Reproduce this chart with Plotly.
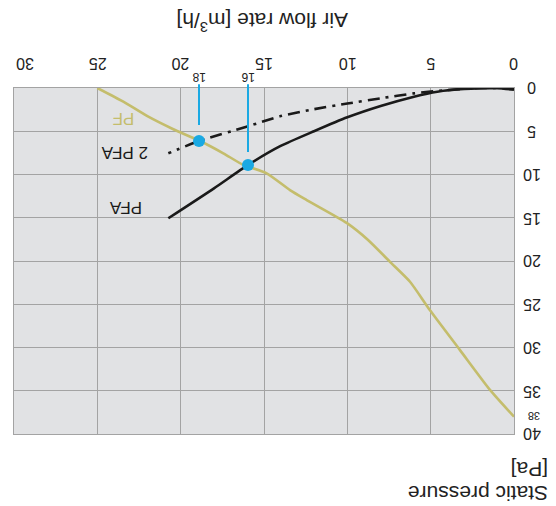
import plotly.graph_objects as go

# ---- data ----
pf_flow = [25, 23.44, 21.94, 20.44, 18.84, 17.44, 16.24, 14.84, 13.44, 12.44, 10.04, 8.74, 7.44, 6.24, 5.04, 3.24, 1.44, 0]
pf_press = [0, 1.58, 3.32, 4.77, 6.13, 7.55, 8.9, 9.86, 11.8, 12.95, 15.6, 17.6, 20.1, 22.4, 25.7, 30.3, 34.9, 38]

pfa_flow = [0, 1, 3, 4.6, 6, 8, 10, 12, 14, 16, 18, 20.74]
pfa_press = [0.2, 0.03, 0.12, 0.43, 1.0, 2.08, 3.39, 5.0, 6.7, 8.95, 11.6, 15.06]

pfa2_flow = [0, 2, 4, 6, 8, 10, 12, 14, 16, 18.9, 20.74]
pfa2_press = [0.03, 0.0, 0.23, 0.62, 1.19, 1.8, 2.45, 3.25, 4.45, 6.13, 7.55]

op_flow = [18.9, 15.96]
op_press = [6.13, 8.9]
op_line_end = [4.28, 7.4]
op_labels = ["18", "16"]
op_label_level = -1.3

x_ticks = [0, 5, 10, 15, 20, 25, 30]
y_ticks = [0, 5, 10, 15, 20, 25, 30, 35, 40]
pf_end_label = "38"
pf_end_value = 38

curve_names = ["PF", "2 PFA", "PFA"]
curve_label_flow = [23.42, 23.34, 23.28]
curve_label_press = [3.5, 7.54, 13.8]

# ---- styles ----
OLIVE = "#c4bd6c"
BLUE = "#1aa9e3"
BLACK = "#1a1a1a"
GRID = "#a3a3a3"
TXT = "#222222"
FONT = "Liberation Sans, Arial, sans-serif"

fig = go.Figure()
fig.add_trace(go.Scatter(x=pf_flow, y=pf_press, mode="lines",
                         line=dict(color=OLIVE, width=2.6, shape="spline", smoothing=0.6)))
fig.add_trace(go.Scatter(x=pfa_flow, y=pfa_press, mode="lines",
                         line=dict(color=BLACK, width=2.6, shape="spline", smoothing=0.6)))
fig.add_trace(go.Scatter(x=pfa2_flow, y=pfa2_press, mode="lines",
                         line=dict(color=BLACK, width=2.6, shape="spline", smoothing=0.6,
                                   dash="12px,6px,3px,6px")))

fig.add_trace(go.Scatter(x=op_flow, y=op_press, mode="markers",
                         marker=dict(color=BLUE, size=12), cliponaxis=False))

# operating point labels with blue leader lines
for fx, fend, lab in zip(op_flow, op_line_end, op_labels):
    fig.add_annotation(x=fx, y=fend, xref="x", yref="y",
                       ax=fx, ay=op_label_level, axref="x", ayref="y",
                       text=lab, showarrow=True, arrowhead=0, arrowwidth=2,
                       arrowcolor=BLUE, standoff=0, startstandoff=0, borderpad=0,
                       textangle=180, font=dict(size=12, color=TXT, family=FONT))

for name, lx, ly, c in zip(curve_names, curve_label_flow, curve_label_press, [OLIVE, BLACK, BLACK]):
    fig.add_annotation(x=lx, y=ly, xref="x", yref="y", text=name, showarrow=False,
                       xanchor="center", yanchor="middle",
                       textangle=180, font=dict(size=17, color=c, family=FONT))

# x tick labels (upside down); the edge label "30" is nudged inward as in the reference
for v in x_ticks:
    fig.add_annotation(x=v, xref="x", y=1.0, yref="paper", xanchor="center", yanchor="middle",
                       yshift=24, xshift=(11 if v == max(x_ticks) else 0),
                       text=str(v), showarrow=False, textangle=180,
                       font=dict(size=16, color=TXT, family=FONT))

# y tick labels (upside down)
for v in y_ticks:
    fig.add_annotation(x=1.0, xref="paper", y=v, yref="y", xanchor="center", yanchor="middle",
                       xshift=18, text=str(v), showarrow=False, textangle=180,
                       font=dict(size=16, color=TXT, family=FONT))

# small "38" label next to the y axis
fig.add_annotation(x=1.0, xref="paper", xshift=20, y=pf_end_value, yref="y",
                   xanchor="center", yanchor="middle",
                   text=pf_end_label, showarrow=False, textangle=180,
                   font=dict(size=11, color=TXT, family=FONT))

# axis titles (upside down)
fig.add_annotation(x=0.496, y=1.0, xref="paper", yref="paper", yshift=66,
                   xanchor="center", yanchor="middle",
                   text="Air flow rate [m<sup>3</sup>/h]", showarrow=False, textangle=180,
                   font=dict(size=21, color=TXT, family=FONT))
fig.add_annotation(x=1.0, y=0.0, xref="paper", yref="paper", xanchor="center", yanchor="middle",
                   xshift=-36, yshift=-60,
                   text="Static pressure", showarrow=False, textangle=180,
                   font=dict(size=21, color=TXT, family=FONT))
fig.add_annotation(x=1.0, y=0.0, xref="paper", yref="paper", xanchor="center", yanchor="middle",
                   xshift=16, yshift=-36,
                   text="[Pa]", showarrow=False, textangle=180,
                   font=dict(size=21, color=TXT, family=FONT))

fig.update_layout(
    width=548, height=498,
    margin=dict(l=6, r=42, t=80, b=72),
    paper_bgcolor="white", plot_bgcolor="#e1e2e4",
    showlegend=False,
    font=dict(family=FONT, size=16, color=TXT),
)
fig.update_xaxes(range=[30, 0], side="top", tickvals=x_ticks, showticklabels=False,
                 showgrid=True, gridcolor=GRID, gridwidth=1, zeroline=False,
                 showline=True, linecolor=GRID, linewidth=1, mirror=True, ticks="")
fig.update_yaxes(range=[40, 0], side="right", tickvals=y_ticks, showticklabels=False,
                 showgrid=True, gridcolor=GRID, gridwidth=1, zeroline=False,
                 showline=True, linecolor=GRID, linewidth=1, mirror=True, ticks="")

fig.write_html("out.html")
